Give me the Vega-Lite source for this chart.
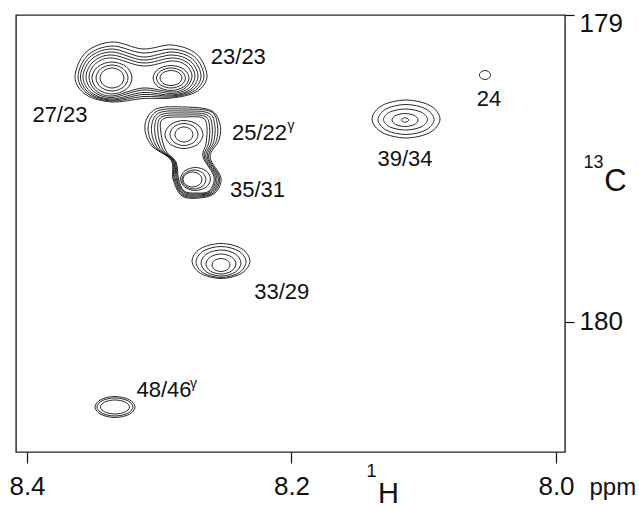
{
"$schema": "https://vega.github.io/schema/vega-lite/v6.json",
"width": 549, "height": 437,
"autosize": {"type": "none"},
"padding": {"left": 16, "top": 15, "right": 74, "bottom": 56},
"config": {"view": {"stroke": "#222", "strokeWidth": 1.4}, "font": "Liberation Sans"},
"resolve": {"axis": {"x": "independent", "y": "independent"}},
"layer": [
{
"data": {"values": [
{"c":"AL1","i":0,"H":8.3267,"C":179.2052},{"c":"AL1","i":1,"H":8.3293,"C":179.2282},{"c":"AL1","i":2,"H":8.3357,"C":179.2378},{"c":"AL1","i":3,"H":8.3421,"C":179.2282},{"c":"AL1","i":4,"H":8.3448,"C":179.2052},{"c":"AL1","i":5,"H":8.3421,"C":179.1822},{"c":"AL1","i":6,"H":8.3357,"C":179.1726},{"c":"AL1","i":7,"H":8.3293,"C":179.1822},
{"c":"AL2","i":0,"H":8.3236,"C":179.2052},{"c":"AL2","i":1,"H":8.3272,"C":179.2351},{"c":"AL2","i":2,"H":8.3357,"C":179.2476},{"c":"AL2","i":3,"H":8.3443,"C":179.2351},{"c":"AL2","i":4,"H":8.3478,"C":179.2052},{"c":"AL2","i":5,"H":8.3443,"C":179.1753},{"c":"AL2","i":6,"H":8.3357,"C":179.1629},{"c":"AL2","i":7,"H":8.3272,"C":179.1753},
{"c":"AL3","i":0,"H":8.3206,"C":179.2052},{"c":"AL3","i":1,"H":8.3250,"C":179.2421},{"c":"AL3","i":2,"H":8.3357,"C":179.2573},{"c":"AL3","i":3,"H":8.3464,"C":179.2421},{"c":"AL3","i":4,"H":8.3509,"C":179.2052},{"c":"AL3","i":5,"H":8.3464,"C":179.1684},{"c":"AL3","i":6,"H":8.3357,"C":179.1531},{"c":"AL3","i":7,"H":8.3250,"C":179.1684},
{"c":"AR1","i":0,"H":8.2828,"C":179.2052},{"c":"AR1","i":1,"H":8.2852,"C":179.2225},{"c":"AR1","i":2,"H":8.2911,"C":179.2296},{"c":"AR1","i":3,"H":8.2970,"C":179.2225},{"c":"AR1","i":4,"H":8.2994,"C":179.2052},{"c":"AR1","i":5,"H":8.2970,"C":179.1879},{"c":"AR1","i":6,"H":8.2911,"C":179.1808},{"c":"AR1","i":7,"H":8.2852,"C":179.1879},
{"c":"AR2","i":0,"H":8.2802,"C":179.2052},{"c":"AR2","i":1,"H":8.2834,"C":179.2282},{"c":"AR2","i":2,"H":8.2911,"C":179.2378},{"c":"AR2","i":3,"H":8.2989,"C":179.2282},{"c":"AR2","i":4,"H":8.3021,"C":179.2052},{"c":"AR2","i":5,"H":8.2989,"C":179.1822},{"c":"AR2","i":6,"H":8.2911,"C":179.1726},{"c":"AR2","i":7,"H":8.2834,"C":179.1822},
{"c":"AR3","i":0,"H":8.2775,"C":179.2052},{"c":"AR3","i":1,"H":8.2815,"C":179.2340},{"c":"AR3","i":2,"H":8.2911,"C":179.2459},{"c":"AR3","i":3,"H":8.3007,"C":179.2340},{"c":"AR3","i":4,"H":8.3047,"C":179.2052},{"c":"AR3","i":5,"H":8.3007,"C":179.1764},{"c":"AR3","i":6,"H":8.2911,"C":179.1645},{"c":"AR3","i":7,"H":8.2815,"C":179.1764},
{"c":"A4","i":1,"H":8.3531,"C":179.2020},{"c":"A4","i":2,"H":8.3481,"C":179.1583},{"c":"A4","i":3,"H":8.3357,"C":179.1401},{"c":"A4","i":4,"H":8.3123,"C":179.1661},{"c":"A4","i":5,"H":8.2904,"C":179.1498},{"c":"A4","i":6,"H":8.2797,"C":179.1642},{"c":"A4","i":7,"H":8.2752,"C":179.1987},{"c":"A4","i":8,"H":8.2797,"C":179.2355},{"c":"A4","i":9,"H":8.2904,"C":179.2508},{"c":"A4","i":10,"H":8.3123,"C":179.2378},{"c":"A4","i":11,"H":8.3357,"C":179.2638},{"c":"A4","i":12,"H":8.3481,"C":179.2456},
{"c":"A5","i":1,"H":8.3554,"C":179.2020},{"c":"A5","i":2,"H":8.3496,"C":179.1511},{"c":"A5","i":3,"H":8.3357,"C":179.1303},{"c":"A5","i":4,"H":8.3123,"C":179.1563},{"c":"A5","i":5,"H":8.2904,"C":179.1401},{"c":"A5","i":6,"H":8.2780,"C":179.1573},{"c":"A5","i":7,"H":8.2730,"C":179.1987},{"c":"A5","i":8,"H":8.2780,"C":179.2391},{"c":"A5","i":9,"H":8.2904,"C":179.2557},{"c":"A5","i":10,"H":8.3123,"C":179.2443},{"c":"A5","i":11,"H":8.3357,"C":179.2687},{"c":"A5","i":12,"H":8.3496,"C":179.2492},
{"c":"A6","i":1,"H":8.3577,"C":179.2020},{"c":"A6","i":2,"H":8.3512,"C":179.1443},{"c":"A6","i":3,"H":8.3357,"C":179.1205},{"c":"A6","i":4,"H":8.3123,"C":179.1466},{"c":"A6","i":5,"H":8.2904,"C":179.1303},{"c":"A6","i":6,"H":8.2764,"C":179.1505},{"c":"A6","i":7,"H":8.2707,"C":179.1987},{"c":"A6","i":8,"H":8.2764,"C":179.2423},{"c":"A6","i":9,"H":8.2904,"C":179.2606},{"c":"A6","i":10,"H":8.3123,"C":179.2524},{"c":"A6","i":11,"H":8.3357,"C":179.2736},{"c":"A6","i":12,"H":8.3512,"C":179.2528},
{"c":"A7","i":1,"H":8.3596,"C":179.2020},{"c":"A7","i":2,"H":8.3526,"C":179.1375},{"c":"A7","i":3,"H":8.3357,"C":179.1108},{"c":"A7","i":4,"H":8.3123,"C":179.1368},{"c":"A7","i":5,"H":8.2904,"C":179.1205},{"c":"A7","i":6,"H":8.2749,"C":179.1433},{"c":"A7","i":7,"H":8.2684,"C":179.1987},{"c":"A7","i":8,"H":8.2749,"C":179.2446},{"c":"A7","i":9,"H":8.2904,"C":179.2638},{"c":"A7","i":10,"H":8.3123,"C":179.2590},{"c":"A7","i":11,"H":8.3357,"C":179.2769},{"c":"A7","i":12,"H":8.3526,"C":179.2550},
{"c":"A8","i":1,"H":8.3614,"C":179.2020},{"c":"A8","i":2,"H":8.3539,"C":179.1306},{"c":"A8","i":3,"H":8.3357,"C":179.1010},{"c":"A8","i":4,"H":8.3123,"C":179.1238},{"c":"A8","i":5,"H":8.2904,"C":179.1108},{"c":"A8","i":6,"H":8.2733,"C":179.1365},{"c":"A8","i":7,"H":8.2662,"C":179.1987},{"c":"A8","i":8,"H":8.2733,"C":179.2469},{"c":"A8","i":9,"H":8.2904,"C":179.2671},{"c":"A8","i":10,"H":8.3123,"C":179.2655},{"c":"A8","i":11,"H":8.3357,"C":179.2801},{"c":"A8","i":12,"H":8.3539,"C":179.2573},
{"c":"A9","i":1,"H":8.3637,"C":179.2020},{"c":"A9","i":2,"H":8.3555,"C":179.1215},{"c":"A9","i":3,"H":8.3357,"C":179.0879},{"c":"A9","i":4,"H":8.3123,"C":179.1108},{"c":"A9","i":5,"H":8.2904,"C":179.0977},{"c":"A9","i":6,"H":8.2717,"C":179.1274},{"c":"A9","i":7,"H":8.2639,"C":179.1987},{"c":"A9","i":8,"H":8.2717,"C":179.2495},{"c":"A9","i":9,"H":8.2904,"C":179.2704},{"c":"A9","i":10,"H":8.3123,"C":179.2720},{"c":"A9","i":11,"H":8.3357,"C":179.2834},{"c":"A9","i":12,"H":8.3555,"C":179.2596},
{"c":"BU1","i":0,"H":8.2745,"C":179.3892},{"c":"BU1","i":1,"H":8.2765,"C":179.4065},{"c":"BU1","i":2,"H":8.2813,"C":179.4137},{"c":"BU1","i":3,"H":8.2861,"C":179.4065},{"c":"BU1","i":4,"H":8.2881,"C":179.3892},{"c":"BU1","i":5,"H":8.2861,"C":179.3720},{"c":"BU1","i":6,"H":8.2813,"C":179.3648},{"c":"BU1","i":7,"H":8.2765,"C":179.3720},
{"c":"BU2","i":0,"H":8.2707,"C":179.3892},{"c":"BU2","i":1,"H":8.2738,"C":179.4146},{"c":"BU2","i":2,"H":8.2813,"C":179.4251},{"c":"BU2","i":3,"H":8.2888,"C":179.4146},{"c":"BU2","i":4,"H":8.2919,"C":179.3892},{"c":"BU2","i":5,"H":8.2888,"C":179.3639},{"c":"BU2","i":6,"H":8.2813,"C":179.3534},{"c":"BU2","i":7,"H":8.2738,"C":179.3639},
{"c":"BU3","i":0,"H":8.2669,"C":179.3892},{"c":"BU3","i":1,"H":8.2711,"C":179.4215},{"c":"BU3","i":2,"H":8.2813,"C":179.4348},{"c":"BU3","i":3,"H":8.2914,"C":179.4215},{"c":"BU3","i":4,"H":8.2957,"C":179.3892},{"c":"BU3","i":5,"H":8.2914,"C":179.3570},{"c":"BU3","i":6,"H":8.2813,"C":179.3436},{"c":"BU3","i":7,"H":8.2711,"C":179.3570},
{"c":"BD1","i":0,"H":8.2677,"C":179.5358},{"c":"BD1","i":1,"H":8.2698,"C":179.5531},{"c":"BD1","i":2,"H":8.2749,"C":179.5603},{"c":"BD1","i":3,"H":8.2799,"C":179.5531},{"c":"BD1","i":4,"H":8.2820,"C":179.5358},{"c":"BD1","i":5,"H":8.2799,"C":179.5186},{"c":"BD1","i":6,"H":8.2749,"C":179.5114},{"c":"BD1","i":7,"H":8.2698,"C":179.5186},
{"c":"BD2","i":0,"H":8.2647,"C":179.5358},{"c":"BD2","i":1,"H":8.2673,"C":179.5577},{"c":"BD2","i":2,"H":8.2737,"C":179.5668},{"c":"BD2","i":3,"H":8.2801,"C":179.5577},{"c":"BD2","i":4,"H":8.2828,"C":179.5358},{"c":"BD2","i":5,"H":8.2801,"C":179.5140},{"c":"BD2","i":6,"H":8.2737,"C":179.5049},{"c":"BD2","i":7,"H":8.2673,"C":179.5140},
{"c":"BD3","i":0,"H":8.2613,"C":179.5342},{"c":"BD3","i":1,"H":8.2646,"C":179.5607},{"c":"BD3","i":2,"H":8.2726,"C":179.5717},{"c":"BD3","i":3,"H":8.2806,"C":179.5607},{"c":"BD3","i":4,"H":8.2839,"C":179.5342},{"c":"BD3","i":5,"H":8.2806,"C":179.5077},{"c":"BD3","i":6,"H":8.2726,"C":179.4967},{"c":"BD3","i":7,"H":8.2646,"C":179.5077},
{"c":"B4","i":1,"H":8.2972,"C":179.3388},{"c":"B4","i":2,"H":8.2805,"C":179.3322},{"c":"B4","i":3,"H":8.2669,"C":179.3355},{"c":"B4","i":4,"H":8.2639,"C":179.3681},{"c":"B4","i":5,"H":8.2647,"C":179.4202},{"c":"B4","i":6,"H":8.2669,"C":179.4625},{"c":"B4","i":7,"H":8.2586,"C":179.5277},{"c":"B4","i":8,"H":8.2624,"C":179.5733},{"c":"B4","i":9,"H":8.2722,"C":179.5798},{"c":"B4","i":10,"H":8.2813,"C":179.5733},{"c":"B4","i":11,"H":8.2854,"C":179.5342},{"c":"B4","i":12,"H":8.2873,"C":179.4788},{"c":"B4","i":13,"H":8.2949,"C":179.4430},{"c":"B4","i":14,"H":8.2987,"C":179.3844},
{"c":"B5","i":1,"H":8.2982,"C":179.3322},{"c":"B5","i":2,"H":8.2805,"C":179.3257},{"c":"B5","i":3,"H":8.2654,"C":179.3303},{"c":"B5","i":4,"H":8.2619,"C":179.3655},{"c":"B5","i":5,"H":8.2627,"C":179.4176},{"c":"B5","i":6,"H":8.2659,"C":179.4625},{"c":"B5","i":7,"H":8.2576,"C":179.5283},{"c":"B5","i":8,"H":8.2615,"C":179.5746},{"c":"B5","i":9,"H":8.2716,"C":179.5831},{"c":"B5","i":10,"H":8.2816,"C":179.5765},{"c":"B5","i":11,"H":8.2863,"C":179.5342},{"c":"B5","i":12,"H":8.2881,"C":179.4775},{"c":"B5","i":13,"H":8.2972,"C":179.4391},{"c":"B5","i":14,"H":8.3011,"C":179.3792},
{"c":"B6","i":1,"H":8.2993,"C":179.3257},{"c":"B6","i":2,"H":8.2805,"C":179.3192},{"c":"B6","i":3,"H":8.2639,"C":179.3251},{"c":"B6","i":4,"H":8.2600,"C":179.3629},{"c":"B6","i":5,"H":8.2607,"C":179.4150},{"c":"B6","i":6,"H":8.2648,"C":179.4625},{"c":"B6","i":7,"H":8.2565,"C":179.5290},{"c":"B6","i":8,"H":8.2606,"C":179.5759},{"c":"B6","i":9,"H":8.2710,"C":179.5863},{"c":"B6","i":10,"H":8.2819,"C":179.5798},{"c":"B6","i":11,"H":8.2871,"C":179.5342},{"c":"B6","i":12,"H":8.2889,"C":179.4762},{"c":"B6","i":13,"H":8.2994,"C":179.4352},{"c":"B6","i":14,"H":8.3035,"C":179.3739},
{"c":"B7","i":1,"H":8.3003,"C":179.3192},{"c":"B7","i":2,"H":8.2805,"C":179.3127},{"c":"B7","i":3,"H":8.2624,"C":179.3199},{"c":"B7","i":4,"H":8.2580,"C":179.3603},{"c":"B7","i":5,"H":8.2588,"C":179.4124},{"c":"B7","i":6,"H":8.2637,"C":179.4625},{"c":"B7","i":7,"H":8.2554,"C":179.5296},{"c":"B7","i":8,"H":8.2597,"C":179.5772},{"c":"B7","i":9,"H":8.2704,"C":179.5895},{"c":"B7","i":10,"H":8.2822,"C":179.5831},{"c":"B7","i":11,"H":8.2879,"C":179.5342},{"c":"B7","i":12,"H":8.2896,"C":179.4749},{"c":"B7","i":13,"H":8.3017,"C":179.4313},{"c":"B7","i":14,"H":8.3059,"C":179.3687},
{"c":"B8","i":1,"H":8.3014,"C":179.3127},{"c":"B8","i":2,"H":8.2805,"C":179.3062},{"c":"B8","i":3,"H":8.2609,"C":179.3147},{"c":"B8","i":4,"H":8.2560,"C":179.3577},{"c":"B8","i":5,"H":8.2568,"C":179.4098},{"c":"B8","i":6,"H":8.2627,"C":179.4625},{"c":"B8","i":7,"H":8.2544,"C":179.5303},{"c":"B8","i":8,"H":8.2588,"C":179.5785},{"c":"B8","i":9,"H":8.2698,"C":179.5928},{"c":"B8","i":10,"H":8.2825,"C":179.5863},{"c":"B8","i":11,"H":8.2888,"C":179.5342},{"c":"B8","i":12,"H":8.2904,"C":179.4736},{"c":"B8","i":13,"H":8.3040,"C":179.4274},{"c":"B8","i":14,"H":8.3084,"C":179.3635},
{"c":"B9","i":1,"H":8.3025,"C":179.3062},{"c":"B9","i":2,"H":8.2805,"C":179.2997},{"c":"B9","i":3,"H":8.2609,"C":179.3110},{"c":"B9","i":4,"H":8.2541,"C":179.3550},{"c":"B9","i":5,"H":8.2548,"C":179.4072},{"c":"B9","i":6,"H":8.2616,"C":179.4625},{"c":"B9","i":7,"H":8.2533,"C":179.5309},{"c":"B9","i":8,"H":8.2578,"C":179.5798},{"c":"B9","i":9,"H":8.2692,"C":179.5961},{"c":"B9","i":10,"H":8.2828,"C":179.5895},{"c":"B9","i":11,"H":8.2896,"C":179.5342},{"c":"B9","i":12,"H":8.2911,"C":179.4723},{"c":"B9","i":13,"H":8.3062,"C":179.4234},{"c":"B9","i":14,"H":8.3108,"C":179.3583},
{"c":"E1","i":0,"H":8.2465,"C":179.8143},{"c":"E1","i":1,"H":8.2485,"C":179.8293},{"c":"E1","i":2,"H":8.2533,"C":179.8355},{"c":"E1","i":3,"H":8.2581,"C":179.8293},{"c":"E1","i":4,"H":8.2601,"C":179.8143},{"c":"E1","i":5,"H":8.2581,"C":179.7994},{"c":"E1","i":6,"H":8.2533,"C":179.7932},{"c":"E1","i":7,"H":8.2485,"C":179.7994},
{"c":"E2","i":0,"H":8.2420,"C":179.8111},{"c":"E2","i":1,"H":8.2453,"C":179.8341},{"c":"E2","i":2,"H":8.2533,"C":179.8436},{"c":"E2","i":3,"H":8.2613,"C":179.8341},{"c":"E2","i":4,"H":8.2647,"C":179.8111},{"c":"E2","i":5,"H":8.2613,"C":179.7880},{"c":"E2","i":6,"H":8.2533,"C":179.7785},{"c":"E2","i":7,"H":8.2453,"C":179.7880},
{"c":"E3","i":0,"H":8.2382,"C":179.8078},{"c":"E3","i":1,"H":8.2426,"C":179.8378},{"c":"E3","i":2,"H":8.2533,"C":179.8502},{"c":"E3","i":3,"H":8.2640,"C":179.8378},{"c":"E3","i":4,"H":8.2684,"C":179.8078},{"c":"E3","i":5,"H":8.2640,"C":179.7779},{"c":"E3","i":6,"H":8.2533,"C":179.7655},{"c":"E3","i":7,"H":8.2426,"C":179.7779},
{"c":"E4","i":0,"H":8.2344,"C":179.8046},{"c":"E4","i":1,"H":8.2399,"C":179.8403},{"c":"E4","i":2,"H":8.2533,"C":179.8550},{"c":"E4","i":3,"H":8.2667,"C":179.8403},{"c":"E4","i":4,"H":8.2722,"C":179.8046},{"c":"E4","i":5,"H":8.2667,"C":179.7689},{"c":"E4","i":6,"H":8.2533,"C":179.7541},{"c":"E4","i":7,"H":8.2399,"C":179.7689},
{"c":"E5","i":0,"H":8.2314,"C":179.8013},{"c":"E5","i":1,"H":8.2378,"C":179.8416},{"c":"E5","i":2,"H":8.2533,"C":179.8583},{"c":"E5","i":3,"H":8.2688,"C":179.8416},{"c":"E5","i":4,"H":8.2752,"C":179.8013},{"c":"E5","i":5,"H":8.2688,"C":179.7610},{"c":"E5","i":6,"H":8.2533,"C":179.7443},{"c":"E5","i":7,"H":8.2378,"C":179.7610},
{"c":"F1","i":0,"H":8.1115,"C":179.3420},{"c":"F1","i":1,"H":8.1123,"C":179.3471},{"c":"F1","i":2,"H":8.1142,"C":179.3492},{"c":"F1","i":3,"H":8.1160,"C":179.3471},{"c":"F1","i":4,"H":8.1168,"C":179.3420},{"c":"F1","i":5,"H":8.1160,"C":179.3370},{"c":"F1","i":6,"H":8.1142,"C":179.3349},{"c":"F1","i":7,"H":8.1123,"C":179.3370},
{"c":"F2","i":0,"H":8.1043,"C":179.3420},{"c":"F2","i":1,"H":8.1072,"C":179.3570},{"c":"F2","i":2,"H":8.1142,"C":179.3632},{"c":"F2","i":3,"H":8.1211,"C":179.3570},{"c":"F2","i":4,"H":8.1240,"C":179.3420},{"c":"F2","i":5,"H":8.1211,"C":179.3271},{"c":"F2","i":6,"H":8.1142,"C":179.3209},{"c":"F2","i":7,"H":8.1072,"C":179.3271},
{"c":"F3","i":0,"H":8.0972,"C":179.3404},{"c":"F3","i":1,"H":8.1020,"C":179.3646},{"c":"F3","i":2,"H":8.1138,"C":179.3746},{"c":"F3","i":3,"H":8.1256,"C":179.3646},{"c":"F3","i":4,"H":8.1304,"C":179.3404},{"c":"F3","i":5,"H":8.1256,"C":179.3162},{"c":"F3","i":6,"H":8.1138,"C":179.3062},{"c":"F3","i":7,"H":8.1020,"C":179.3162},
{"c":"F4","i":0,"H":8.0922,"C":179.3404},{"c":"F4","i":1,"H":8.0985,"C":179.3749},{"c":"F4","i":2,"H":8.1134,"C":179.3892},{"c":"F4","i":3,"H":8.1284,"C":179.3749},{"c":"F4","i":4,"H":8.1346,"C":179.3404},{"c":"F4","i":5,"H":8.1284,"C":179.3058},{"c":"F4","i":6,"H":8.1134,"C":179.2915},{"c":"F4","i":7,"H":8.0985,"C":179.3058},
{"c":"F5","i":0,"H":8.0877,"C":179.3388},{"c":"F5","i":1,"H":8.0952,"C":179.3825},{"c":"F5","i":2,"H":8.1134,"C":179.4006},{"c":"F5","i":3,"H":8.1316,"C":179.3825},{"c":"F5","i":4,"H":8.1391,"C":179.3388},{"c":"F5","i":5,"H":8.1316,"C":179.2950},{"c":"F5","i":6,"H":8.1134,"C":179.2769},{"c":"F5","i":7,"H":8.0952,"C":179.2950},
{"c":"P24","i":0,"H":8.0495,"C":179.1954},{"c":"P24","i":1,"H":8.0508,"C":179.2058},{"c":"P24","i":2,"H":8.0537,"C":179.2101},{"c":"P24","i":3,"H":8.0566,"C":179.2058},{"c":"P24","i":4,"H":8.0579,"C":179.1954},{"c":"P24","i":5,"H":8.0566,"C":179.1851},{"c":"P24","i":6,"H":8.0537,"C":179.1808},{"c":"P24","i":7,"H":8.0508,"C":179.1851},
{"c":"G1","i":0,"H":8.3225,"C":180.2769},{"c":"G1","i":1,"H":8.3257,"C":180.2930},{"c":"G1","i":2,"H":8.3335,"C":180.2997},{"c":"G1","i":3,"H":8.3412,"C":180.2930},{"c":"G1","i":4,"H":8.3444,"C":180.2769},{"c":"G1","i":5,"H":8.3412,"C":180.2607},{"c":"G1","i":6,"H":8.3335,"C":180.2541},{"c":"G1","i":7,"H":8.3257,"C":180.2607},
{"c":"G2","i":0,"H":8.3199,"C":180.2769},{"c":"G2","i":1,"H":8.3238,"C":180.2976},{"c":"G2","i":2,"H":8.3335,"C":180.3062},{"c":"G2","i":3,"H":8.3431,"C":180.2976},{"c":"G2","i":4,"H":8.3471,"C":180.2769},{"c":"G2","i":5,"H":8.3431,"C":180.2561},{"c":"G2","i":6,"H":8.3335,"C":180.2475},{"c":"G2","i":7,"H":8.3238,"C":180.2561},
{"c":"G3","i":0,"H":8.3183,"C":180.2769},{"c":"G3","i":1,"H":8.3228,"C":180.3010},{"c":"G3","i":2,"H":8.3335,"C":180.3111},{"c":"G3","i":3,"H":8.3441,"C":180.3010},{"c":"G3","i":4,"H":8.3486,"C":180.2769},{"c":"G3","i":5,"H":8.3441,"C":180.2527},{"c":"G3","i":6,"H":8.3335,"C":180.2427},{"c":"G3","i":7,"H":8.3228,"C":180.2527}
]},
"mark": {"type": "line", "interpolate": "cardinal-closed", "stroke": "#111", "strokeWidth": 0.9},
"encoding": {
"x": {"field": "H", "type": "quantitative", "scale": {"domain": [7.99319, 8.40832], "reverse": true, "nice": false, "zero": false},
"axis": {"orient": "bottom", "values": [8.4, 8.2, 8.0], "format": ".1f", "domain": false, "grid": false, "tickSize": 11, "tickColor": "#111", "tickWidth": 1.2, "labelFont": "Liberation Sans", "labelFontSize": 26, "labelColor": "#111", "labelPadding": 10, "labelFlush": false, "labelBaseline": "top",
"title": "H", "titleFont": "Liberation Sans", "titleFontSize": 29, "titleFontWeight": "normal", "titleColor": "#111", "titleX": 372, "titleY": 50, "titleAlign": "center", "titleBaseline": "alphabetic", "titleAngle": 0}},
"y": {"field": "C", "type": "quantitative", "scale": {"domain": [179.0, 180.4235], "reverse": true, "nice": false, "zero": false},
"axis": {"orient": "right", "values": [179, 180], "format": "d", "domain": false, "grid": false, "tickSize": 9, "tickColor": "#111", "tickWidth": 1.2, "labelFont": "Liberation Sans", "labelFontSize": 26, "labelColor": "#111", "labelPadding": 5, "labelFlush": true, "labelFlushOffset": 5,
"title": "C", "titleFont": "Liberation Sans", "titleFontSize": 31, "titleFontWeight": "normal", "titleColor": "#111", "titleAngle": 0, "titleX": 50, "titleY": 175, "titleAlign": "center", "titleBaseline": "alphabetic"}},
"detail": {"field": "c", "type": "nominal"},
"order": {"field": "i", "type": "quantitative"}
}
},
{
"data": {"values": [
{"t":"23/23","H":8.2402,"C":179.1352},
{"t":"27/23","H":8.3751,"C":179.3257},
{"t":"25/22","H":8.2242,"C":179.3853},
{"t":"35/31","H":8.2257,"C":179.5700},
{"t":"39/34","H":8.1142,"C":179.4691},
{"t":"24","H":8.0507,"C":179.2752},
{"t":"33/29","H":8.2074,"C":179.9013},
{"t":"48/46","H":8.2964,"C":180.2215}
]},
"mark": {"type": "text", "font": "Liberation Sans", "fontSize": 22, "color": "#111", "align": "center", "baseline": "middle"},
"encoding": {
"x": {"field": "H", "type": "quantitative", "scale": {"domain": [7.99319, 8.40832], "reverse": true, "nice": false, "zero": false},
"axis": {"orient": "bottom", "labels": false, "ticks": false, "domain": false, "grid": false, "title": "1", "titleFont": "Liberation Sans", "titleFontSize": 18, "titleFontWeight": "normal", "titleColor": "#111", "titleX": 355, "titleY": 24, "titleAlign": "center", "titleBaseline": "alphabetic", "titleAngle": 0}},
"y": {"field": "C", "type": "quantitative", "scale": {"domain": [179.0, 180.4235], "reverse": true, "nice": false, "zero": false},
"axis": {"orient": "right", "labels": false, "ticks": false, "domain": false, "grid": false, "title": "13", "titleFont": "Liberation Sans", "titleFontSize": 18, "titleFontWeight": "normal", "titleColor": "#111", "titleX": 28, "titleY": 152, "titleAlign": "center", "titleBaseline": "alphabetic", "titleAngle": 0}},
"text": {"field": "t", "type": "nominal"}
}
},
{
"data": {"values": [
{"t":"γ","H":8.2004,"C":179.3616},
{"t":"γ","H":8.2741,"C":180.2019}
]},
"mark": {"type": "text", "font": "Liberation Sans", "fontSize": 14, "color": "#111", "align": "center", "baseline": "middle"},
"encoding": {
"x": {"field": "H", "type": "quantitative", "scale": {"domain": [7.99319, 8.40832], "reverse": true, "nice": false, "zero": false},
"axis": {"orient": "bottom", "labels": false, "ticks": false, "domain": false, "grid": false, "title": "ppm", "titleFont": "Liberation Sans", "titleFontSize": 24, "titleFontWeight": "normal", "titleColor": "#111", "titleX": 573, "titleY": 42, "titleAlign": "left", "titleBaseline": "alphabetic", "titleAngle": 0}},
"y": {"field": "C", "type": "quantitative", "scale": {"domain": [179.0, 180.4235], "reverse": true, "nice": false, "zero": false}, "axis": null},
"text": {"field": "t", "type": "nominal"}
}
}
]
}
